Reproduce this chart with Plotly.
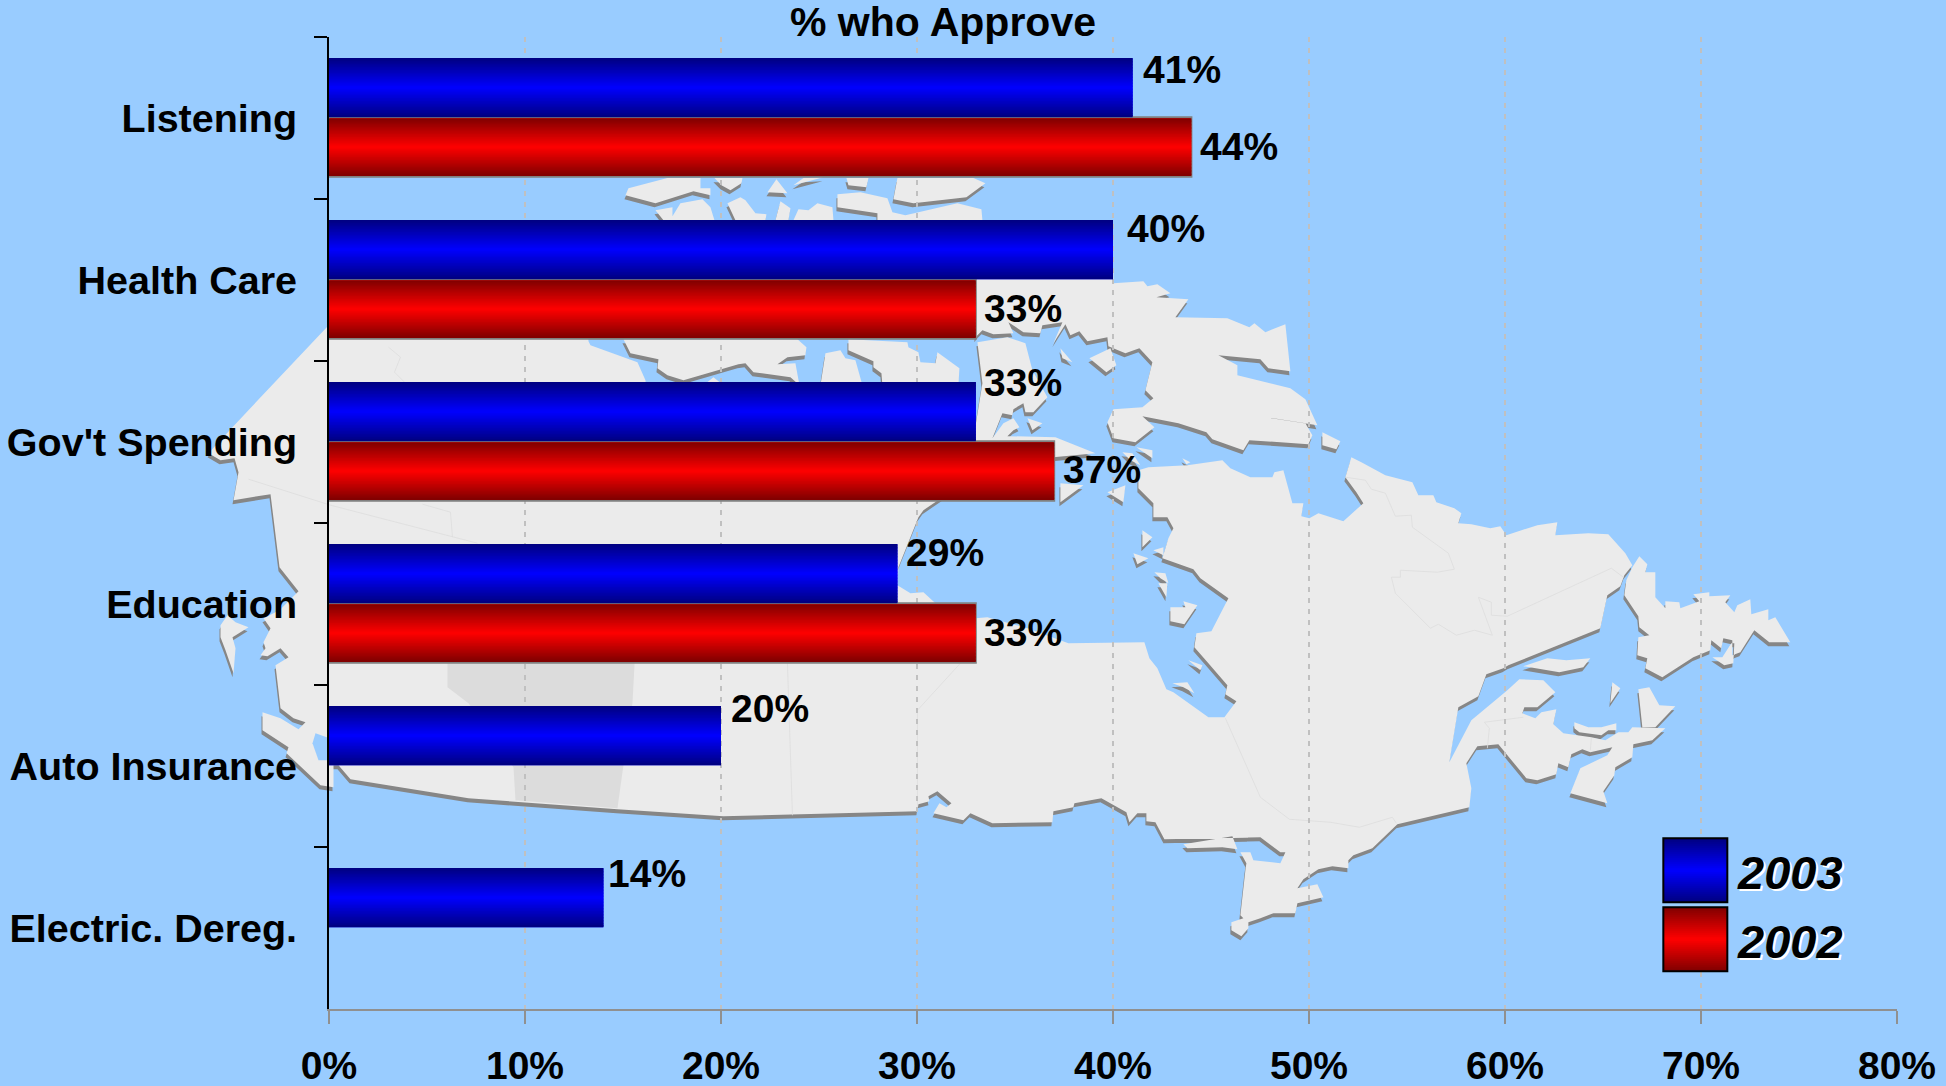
import plotly.graph_objects as go

categories = ["Listening", "Health Care", "Gov't Spending", "Education", "Auto Insurance", "Electric. Dereg."]
values_2003 = [41, 40, 33, 29, 20, 14]
values_2002 = [44, 33, 37, 33, None, None]
x_ticks = [0, 10, 20, 30, 40, 50, 60, 70, 80]

# label nudges (pixels): (right, up)
nudge_2003 = [(9, 18), (13, 21), (7, 29), (8, 21), (9, 27), (4, 24)]
nudge_2002 = [(8, 1), (7, 1), (8, 2), (7, 1), None, None]

W, H = 1946, 1086
L, R, T, B = 328.5, 1896.7, 36.9, 1008.7
BG = "#99ccff"
LAND = "#ebebeb"

# Decorative background map of Canada, traced in page pixels
MAP = [
    # mainland
    [(366,285),(585,285),(588,341),(590,345),(637,362),(645,380),(650,445),(972,445),(982,383),(977,342),(1007,337),(1025,343),(1032,370),(1047,397),(1033,412),(1025,412),(1023,403),(1013,409),(1012,415),(1002,413),(992,438),(1003,423),(1013,418),(1019,427),(1013,430),(1007,436),(1055,437),(1095,453),(1053,457),(1048,490),(945,495),(923,510),(918,517),(898,567),(897,585),(910,593),(923,592),(935,603),(975,618),(987,617),(1027,628),(1068,643),(1144,642),(1149,658),(1157,668),(1166,689),(1173,692),(1208,717),(1224,717),(1236,701),(1225,694),(1227,685),(1208,663),(1194,647),(1196,633),(1211,631),(1228,598),(1200,578),(1193,569),(1162,558),(1168,538),(1173,528),(1167,517),(1153,517),(1153,503),(1138,488),(1138,470),(1148,467),(1187,465),(1222,460),(1230,468),(1250,477),(1272,477),(1274,472),(1283,470),(1292,503),(1303,503),(1301,516),(1309,518),(1318,513),(1343,521),(1363,503),(1356,492),(1345,477),(1351,457),(1361,462),(1385,475),(1412,482),(1418,495),(1433,495),(1436,502),(1454,508),(1461,513),(1458,523),(1471,524),(1490,528),(1500,526),(1506,535),(1537,525),(1557,522),(1555,535),(1588,533),(1608,534),(1625,553),(1632,565),(1624,575),(1620,586),(1607,595),(1600,628),(1508,665),(1503,668),(1486,674),(1478,696),(1458,707),(1449,762),(1471,720),(1507,690),(1519,679),(1543,680),(1555,692),(1537,707),(1524,707),(1522,713),(1535,718),(1541,712),(1556,709),(1553,724),(1563,733),(1591,737),(1605,740),(1618,732),(1628,732),(1632,727),(1665,728),(1652,740),(1633,744),(1632,757),(1615,767),(1614,775),(1603,791),(1607,803),(1570,793),(1580,768),(1607,755),(1612,747),(1590,752),(1582,749),(1571,754),(1568,767),(1558,763),(1556,774),(1537,780),(1526,778),(1498,744),(1477,746),(1466,763),(1471,788),(1469,807),(1397,824),(1372,848),(1353,855),(1348,860),(1348,868),(1332,866),(1318,869),(1303,879),(1297,888),(1317,884),(1323,897),(1297,903),(1295,913),(1273,913),(1260,918),(1248,922),(1248,928),(1241,936),(1231,930),(1231,922),(1243,918),(1240,915),(1245,870),(1246,863),(1240,852),(1250,852),(1253,860),(1280,863),(1285,852),(1280,852),(1260,837),(1164,839),(1155,822),(1146,821),(1146,813),(1137,813),(1129,822),(1126,812),(1101,798),(1074,803),(1073,807),(1053,811),(1052,822),(992,823),(970,813),(963,820),(933,813),(939,803),(946,807),(951,803),(937,791),(928,796),(929,801),(918,804),(917,811),(723,816),(617,809),(468,798),(350,779),(338,765),(333,765),(333,787),(320,785),(286,753),(288,747),(262,730),(262,712),(280,718),(298,729),(305,722),(293,718),(280,708),(275,665),(288,657),(280,648),(267,656),(260,655),(265,648),(263,642),(270,628),(263,618),(279,610),(298,591),(279,567),(270,494),(233,500),(238,472),(234,458),(220,460),(208,453),(231,428)],
    # Baffin
    [(975,270),(1113,270),(1113,283),(1143,281),(1147,286),(1157,284),(1170,293),(1156,297),(1188,299),(1175,317),(1227,318),(1249,327),(1254,323),(1265,332),(1285,324),(1290,371),(1268,368),(1260,359),(1218,355),(1237,365),(1237,375),(1290,388),(1305,399),(1317,425),(1252,415),(1305,423),(1312,435),(1308,444),(1249,440),(1243,450),(1212,439),(1206,432),(1178,423),(1142,416),(1154,427),(1135,442),(1113,438),(1107,422),(1113,409),(1142,407),(1153,398),(1145,390),(1152,362),(1139,348),(1125,353),(1108,346),(1107,337),(1087,341),(1079,331),(1070,335),(1065,324),(1053,343),(1062,322),(1042,325),(1040,333),(1023,332),(1008,322),(1013,333),(993,334),(982,330),(977,335),(975,338)],
    # arctic islands
    [(625,195),(628,188),(667,178),(700,178),(700,188),(710,188),(710,195),(693,191),(655,203)],
    [(714,178),(742,178),(741,183),(730,190),(721,185)],
    [(767,192),(776,179),(787,193)],
    [(793,185),(803,178),(823,177)],
    [(846,178),(868,178),(866,187),(848,185)],
    [(897,178),(973,178),(985,183),(966,197),(913,203),(893,199)],
    [(655,210),(672,207),(672,216),(680,203),(702,199),(710,207),(714,220),(663,220)],
    [(727,203),(740,197),(745,200),(755,213),(766,214),(765,220),(735,220)],
    [(780,201),(790,208),(788,220),(775,220)],
    [(798,209),(808,210),(817,203),(832,207),(833,220),(793,220)],
    [(837,194),(860,192),(887,198),(892,212),(905,215),(957,203),(981,209),(982,220),(877,220),(877,213),(837,207)],
    [(623,339),(797,339),(806,347),(805,355),(787,357),(777,364),(795,363),(799,385),(790,377),(753,372),(745,363),(738,364),(683,380),(667,375),(657,368),(658,359),(630,353)],
    [(703,385),(713,377),(723,385)],
    [(820,385),(825,353),(840,350),(845,358),(855,360),(862,385)],
    [(848,339),(907,342),(908,347),(918,352),(920,362),(935,363),(937,352),(959,368),(958,385),(882,385),(881,373),(873,367),(873,361),(848,350)],
    [(1060,348),(1072,362),(1062,358)],
    [(1089,358),(1110,348),(1116,365),(1106,372)],
    [(1027,418),(1042,423),(1032,430)],
    [(1136,447),(1152,450),(1152,458)],
    [(1122,452),(1132,453),(1140,465),(1130,460)],
    [(1060,483),(1083,485),(1060,502)],
    [(1107,492),(1125,485),(1123,502)],
    [(1182,458),(1190,462),(1186,464)],
    [(1142,530),(1152,537),(1142,547)],
    [(1153,550),(1163,547),(1163,555)],
    [(1133,553),(1148,558),(1137,564)],
    [(1154,572),(1165,573),(1168,583),(1160,578)],
    [(1158,583),(1167,583),(1166,597)],
    [(1183,601),(1197,605),(1184,624),(1170,621),(1170,607),(1185,607)],
    [(1188,660),(1202,665),(1200,670)],
    [(1172,683),(1187,682),(1194,693),(1183,687)],
    [(1322,432),(1340,441),(1336,449),(1322,445)],
    # Newfoundland
    [(1639,556),(1647,564),(1645,572),(1655,572),(1655,597),(1665,608),(1665,601),(1679,602),(1680,608),(1699,601),(1693,594),(1709,592),(1709,596),(1730,595),(1725,602),(1734,612),(1737,605),(1750,599),(1751,614),(1768,609),(1768,620),(1775,617),(1790,642),(1769,642),(1754,630),(1740,652),(1732,655),(1732,640),(1723,638),(1721,648),(1711,640),(1710,650),(1693,657),(1662,677),(1645,668),(1647,658),(1637,655),(1638,637),(1649,635),(1639,627),(1638,616),(1624,595),(1626,580),(1632,567)],
    [(1712,657),(1722,657),(1731,643),(1734,643),(1733,663),(1724,665)],
    # Gulf of St Lawrence
    [(1523,666),(1547,658),(1566,660),(1590,658),(1583,667),(1559,672)],
    [(1574,722),(1588,727),(1601,727),(1616,723),(1616,730),(1608,730),(1601,735),(1579,732),(1574,728)],
    [(1612,682),(1620,688),(1610,703)],
    [(1638,689),(1649,687),(1659,705),(1675,706),(1655,727),(1642,727)],
    # Haida Gwaii
    [(220,625),(227,615),(235,622),(248,627),(232,637),(235,648),(233,673),(225,650),(220,637)],
    # lower lake sliver
    [(1183,844),(1232,836),(1237,849),(1222,847),(1187,848)],
]
WATER = [[(315,733),(312,743),(318,760),(329,760),(329,738)]]
REGION = [[(447,610),(447,687),(468,703),(513,767),(515,800),(617,808),(623,765),(632,703),(637,610)]]
BORDERS = [
    [(248,479),(330,505),(477,543)],
    [(388,347),(400,357),(394,372),(404,382)],
    [(422,504),(450,512),(452,537)],
    [(787,663),(792,815)],
    [(960,663),(917,710),(917,810)],
    [(1225,718),(1260,797),(1289,819),(1330,822),(1359,827),(1392,817),(1396,823)],
    [(1345,477),(1365,480),(1371,489),(1385,493),(1395,516),(1411,515),(1412,527),(1448,553),(1454,569),(1437,572),(1400,570),(1400,577),(1391,577),(1395,593),(1430,628),(1438,624),(1456,635),(1474,630),(1492,635),(1478,597),(1491,602),(1491,615),(1507,616),(1611,568),(1623,577)],
    [(1484,722),(1523,717)],
    [(1484,722),(1489,728),(1487,748)],
    [(1591,738),(1590,750)],
]


def px(x):
    return (x - L) / (R - L)


def py(y):
    return 1 - (y - T) / (B - T)


def path(polys, dx=0, dy=0, closed=True):
    out = []
    for p in polys:
        s = "M" + " L".join(f"{px(x + dx):.5f},{py(y + dy):.5f}" for x, y in p)
        out.append(s + (" Z" if closed else ""))
    return " ".join(out)


def shape(d, fill, line=None, lw=0, layer="below"):
    return dict(type="path", xref="paper", yref="paper", path=d, layer=layer,
                fillcolor=fill, line=dict(color=line or "rgba(0,0,0,0)", width=lw))


shapes = [
    shape(path(MAP, -1, 4), "#868686"),
    shape(path(MAP), LAND),
    shape(path(REGION), "#dcdcdc"),
    shape(path(WATER), BG),
    shape(path(BORDERS, closed=False), "rgba(0,0,0,0)", "#dddddd", 0.8),
]


def grad(c, t):
    """c = full colour channel tuple at the centre; t in 0..1 across the height."""
    k = 0.5 + 0.5 * (1 - abs(2 * t - 1))
    return f"rgb({round(c[0]*k)},{round(c[1]*k)},{round(c[2]*k)})"


BLUE, RED = (0, 0, 255), (255, 0, 0)
N = 40
BAR_H = 0.366
C0 = -0.004

fig = go.Figure()
fig.add_trace(go.Bar(name="2003", y=categories, x=values_2003, orientation="h", width=BAR_H,
                     offset=C0 - BAR_H, marker=dict(color="#0000ff", line=dict(width=0)), hoverinfo="x+y+name"))
fig.add_trace(go.Bar(name="2002", y=categories, x=values_2002, orientation="h", width=BAR_H,
                     offset=C0, marker=dict(color="#ff0000", line=dict(color="#808080", width=2)), hoverinfo="x+y+name"))

for vals, col, start, inset in ((values_2003, BLUE, C0 - BAR_H, 0), (values_2002, RED, C0, 0.006)):
    h = BAR_H - 2 * inset
    for i in range(N):
        fig.add_trace(go.Bar(y=categories, x=vals, orientation="h",
                             width=min(h / N * 1.5, h - h * i / N),
                             offset=start + inset + h * i / N,
                             marker=dict(color=grad(col, (i + 0.5) / N), line=dict(width=0)),
                             hoverinfo="skip", showlegend=False))

annotations = []
for i, (v, n) in enumerate(zip(values_2003, nudge_2003)):
    annotations.append(dict(x=v, y=i + C0 - BAR_H / 2, xref="x", yref="y", text=f"{v}%", showarrow=False,
                            xanchor="left", xshift=n[0], yshift=n[1], borderpad=0,
                            font=dict(family="Liberation Sans", size=39, color="black", weight="bold")))
for i, (v, n) in enumerate(zip(values_2002, nudge_2002)):
    if v is None:
        continue
    annotations.append(dict(x=v, y=i + C0 + BAR_H / 2, xref="x", yref="y", text=f"{v}%", showarrow=False,
                            xanchor="left", xshift=n[0], yshift=n[1], borderpad=0,
                            font=dict(family="Liberation Sans", size=39, color="black", weight="bold")))

annotations.append(dict(x=px(943), y=py(22), xref="paper", yref="paper", text="% who Approve", showarrow=False,
                        xanchor="center", yanchor="middle",
                        font=dict(family="Liberation Sans", size=41, color="black", weight="bold")))

# legend
for name, col, top in (("2003", BLUE, 838), ("2002", RED, 907)):
    x0, x1, hh = 1663, 1727, 64
    M = 32
    for i in range(M):
        shapes.append(dict(type="rect", xref="paper", yref="paper", layer="above",
                           x0=px(x0), x1=px(x1), y0=py(top + hh * (i + 1.4) / M if i < M - 1 else top + hh), y1=py(top + hh * i / M),
                           fillcolor=grad(col, (i + 0.5) / M), line=dict(width=0)))
    shapes.append(dict(type="rect", xref="paper", yref="paper", layer="above",
                       x0=px(x0), x1=px(x1), y0=py(top + hh), y1=py(top),
                       fillcolor="rgba(0,0,0,0)", line=dict(color="black", width=2)))
    annotations.append(dict(x=px(1735), y=py(top + 34), xref="paper", yref="paper", text=name, showarrow=False,
                            xanchor="left", yanchor="middle",
                            font=dict(family="Liberation Sans", size=47, color="black", weight="bold",
                                      style="italic", shadow="2px 2px 0 white")))

fig.update_layout(
    width=W, height=H, autosize=False,
    paper_bgcolor=BG, plot_bgcolor="rgba(0,0,0,0)",
    margin=dict(l=L, r=W - R, t=T, b=H - B, pad=0, autoexpand=False),
    barmode="overlay", showlegend=False, shapes=shapes, annotations=annotations,
    font=dict(family="Liberation Sans", size=39, color="black", weight="bold"),
    xaxis=dict(range=[0, 80], tickvals=x_ticks, ticktext=[f"{t}%" for t in x_ticks],
               showline=True, linecolor="#909090", linewidth=2,
               ticks="outside", ticklen=13, tickwidth=2, tickcolor="#909090",
               showgrid=True, gridcolor="#c0c0c0", gridwidth=2, griddash="5px,6px",
               zeroline=False, ticklabelstandoff=8,
               tickfont=dict(family="Liberation Sans", size=39, color="black", weight="bold")),
    yaxis=dict(categoryorder="array", categoryarray=categories, type="category", range=[5.5, -0.5],
               showline=True, linecolor="black", linewidth=2,
               ticks="outside", ticklen=13, tickwidth=2, tickcolor="black", tickson="boundaries",
               showgrid=False, zeroline=False, ticklabelstandoff=22,
               tickfont=dict(family="Liberation Sans", size=39.5, color="black", weight="bold")),
)

fig.write_html("out.html", config={"displayModeBar": False},
               post_script="document.body.style.margin='0';document.body.style.background='#99ccff';"
                           "document.documentElement.style.overflow='hidden';")
